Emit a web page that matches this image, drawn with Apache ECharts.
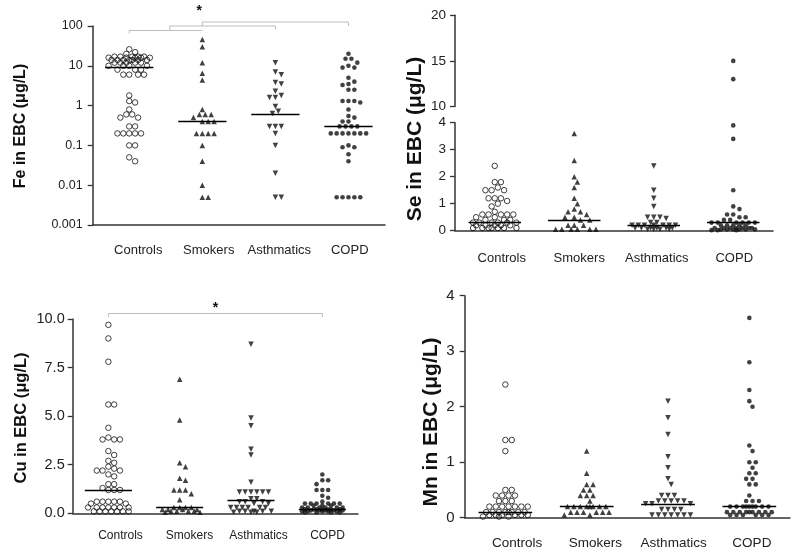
<!DOCTYPE html>
<html><head><meta charset="utf-8">
<script src="https://cdn.jsdelivr.net/npm/echarts@6/dist/echarts.min.js"></script>
<style>html,body{margin:0;padding:0;background:#fff}#c{width:800px;height:560px}</style>
</head><body><div id="c"></div>
<script>
const categories = ['Controls', 'Smokers', 'Asthmatics', 'COPD'];

// Fe (µg/L), log scale
const feControls = [26, 22, 20, 17, 17, 17, 17, 17, 16, 16, 16, 16, 16, 14, 14, 14, 14, 14, 14, 14, 12, 12, 12, 12, 12, 10, 10, 10, 10, 8, 8, 8, 6, 6, 6, 6, 1.8, 1.3, 1.2, 0.8, 0.6, 0.6, 0.5, 0.5, 0.3, 0.3, 0.2, 0.2, 0.2, 0.2, 0.2, 0.1, 0.1, 0.05, 0.04];
const feSmokers = [46, 30, 12, 6.5, 4.4, 0.8, 0.6, 0.6, 0.6, 0.5, 0.4, 0.4, 0.4, 0.2, 0.2, 0.2, 0.2, 0.1, 0.04, 0.01, 0.005, 0.005];
const feAsthmatics = [12, 7, 6, 3.8, 3.5, 2.3, 1.8, 1.6, 1.6, 0.95, 0.72, 0.63, 0.3, 0.3, 0.3, 0.2, 0.1, 0.02, 0.005, 0.005];
const feCOPD = [20, 15, 15, 12, 10, 9, 9, 5, 4, 3.5, 3.3, 2.5, 2.5, 1.3, 1.3, 1.3, 1.2, 0.8, 0.55, 0.5, 0.4, 0.4, 0.3, 0.3, 0.3, 0.3, 0.2, 0.2, 0.2, 0.2, 0.2, 0.2, 0.2, 0.1, 0.09, 0.09, 0.06, 0.04, 0.005, 0.005, 0.005, 0.005, 0.005];
const feMedians = [9, 0.4, 0.6, 0.3];
const feTicks = ['0.001', '0.01', '0.1', '1', '10', '100'];

// Se (µg/L), broken axis
const seControls = [2.4, 1.8, 1.8, 1.6, 1.5, 1.5, 1.5, 1.2, 1.2, 1.2, 1.1, 1.0, 0.9, 0.7, 0.6, 0.6, 0.6, 0.6, 0.6, 0.5, 0.5, 0.4, 0.4, 0.4, 0.3, 0.3, 0.3, 0.3, 0.3, 0.3, 0.2, 0.2, 0.2, 0.2, 0.2, 0.1, 0.1, 0.1, 0.1, 0.1, 0.1, 0.1];
const seSmokers = [3.6, 2.6, 2.0, 1.8, 1.6, 1.2, 1.0, 0.8, 0.7, 0.7, 0.6, 0.5, 0.5, 0.4, 0.4, 0.2, 0.2, 0.2, 0.05, 0.05, 0.05, 0.05, 0.05, 0.05];
const seAsthmatics = [2.4, 1.5, 1.2, 0.9, 0.5, 0.5, 0.5, 0.45, 0.3, 0.3, 0.2, 0.2, 0.2, 0.2, 0.2, 0.2, 0.2, 0.1, 0.1, 0.1, 0.1, 0.1, 0.1, 0.05, 0.05, 0.05, 0.05];
const seCOPD = [15, 13, 3.9, 3.4, 1.5, 0.9, 0.8, 0.6, 0.6, 0.5, 0.5, 0.4, 0.4, 0.3, 0.3, 0.3, 0.3, 0.3, 0.3, 0.2, 0.2, 0.2, 0.2, 0.2, 0.1, 0.1, 0.1, 0.1, 0.1, 0.1, 0.1, 0.05, 0.05, 0.05, 0.05, 0.05, 0.05, 0.02, 0.02, 0.02];
const seMedians = [0.3, 0.4, 0.2, 0.3];

// Cu (µg/L)
const cuControls = [9.7, 9.0, 7.8, 5.6, 5.6, 4.4, 3.9, 3.8, 3.8, 3.8, 3.2, 3.0, 2.7, 2.6, 2.4, 2.3, 2.2, 2.2, 2.2, 2.0, 1.9, 1.5, 1.5, 1.3, 1.2, 1.2, 1.2, 0.6, 0.6, 0.6, 0.6, 0.6, 0.5, 0.5, 0.3, 0.3, 0.3, 0.3, 0.3, 0.3, 0.3, 0.1, 0.1, 0.1, 0.1, 0.1, 0.1, 0.1];
const cuSmokers = [6.9, 4.8, 2.6, 2.4, 1.8, 1.7, 1.2, 1.2, 1.2, 1.0, 0.7, 0.3, 0.3, 0.3, 0.3, 0.2, 0.2, 0.2, 0.2, 0.1, 0.1, 0.1, 0.1, 0.05, 0.05];
const cuAsthmatics = [8.7, 4.9, 4.5, 3.3, 3.0, 1.6, 1.1, 1.1, 1.1, 1.1, 1.1, 1.1, 0.75, 0.75, 0.6, 0.6, 0.6, 0.5, 0.5, 0.3, 0.3, 0.3, 0.3, 0.3, 0.3, 0.1, 0.1, 0.1, 0.1, 0.1, 0.05, 0.05, 0.05];
const cuCOPD = [2.0, 1.7, 1.7, 1.5, 1.2, 1.2, 1.2, 0.9, 0.8, 0.6, 0.5, 0.5, 0.5, 0.5, 0.5, 0.5, 0.4, 0.4, 0.4, 0.3, 0.3, 0.3, 0.3, 0.3, 0.3, 0.2, 0.2, 0.2, 0.2, 0.2, 0.2, 0.2, 0.15, 0.15, 0.15, 0.15, 0.15, 0.1, 0.1, 0.1, 0.1, 0.1, 0.05, 0.05, 0.05, 0.05];
const cuMedians = [1.2, 0.3, 0.65, 0.2];
const cuTicks = ['0.0', '2.5', '5.0', '7.5', '10.0'];

// Mn (µg/L)
const mnControls = [2.4, 1.4, 1.4, 1.2, 0.5, 0.5, 0.4, 0.4, 0.4, 0.4, 0.3, 0.3, 0.3, 0.2, 0.2, 0.2, 0.2, 0.2, 0.2, 0.2, 0.1, 0.1, 0.1, 0.1, 0.1, 0.1, 0.1, 0.1, 0.05, 0.05, 0.05, 0.05, 0.05, 0.05, 0.02, 0.02, 0.02];
const mnSmokers = [1.2, 0.8, 0.6, 0.6, 0.5, 0.5, 0.4, 0.4, 0.4, 0.3, 0.2, 0.2, 0.2, 0.2, 0.2, 0.2, 0.2, 0.2, 0.1, 0.1, 0.1, 0.1, 0.1, 0.1, 0.05, 0.05];
const mnAsthmatics = [2.1, 1.8, 1.5, 1.1, 0.9, 0.7, 0.6, 0.4, 0.4, 0.4, 0.3, 0.3, 0.3, 0.3, 0.3, 0.25, 0.25, 0.25, 0.15, 0.15, 0.15, 0.15, 0.05, 0.05, 0.05, 0.05, 0.05, 0.05, 0.05];
const mnCOPD = [3.6, 2.8, 2.3, 2.1, 2.0, 1.3, 1.2, 1.0, 1.0, 0.9, 0.8, 0.8, 0.7, 0.7, 0.6, 0.6, 0.4, 0.3, 0.3, 0.3, 0.2, 0.2, 0.2, 0.2, 0.2, 0.2, 0.2, 0.2, 0.2, 0.1, 0.1, 0.1, 0.1, 0.1, 0.1, 0.1, 0.1, 0.1, 0.05, 0.05, 0.05, 0.05, 0.05, 0.05];
const mnMedians = [0.1, 0.2, 0.25, 0.2];

const FONT = '"Liberation Sans", Arial, Helvetica, sans-serif';
const INK = '#222';
const AX = '#333';

const chart = echarts.init(document.getElementById('c'), null, { renderer: 'canvas' });

const grids = [
  { left: 92.7, top: 26, width: 292.3, height: 199 },     // 0 Fe data
  { left: 103, top: 26, width: 282, height: 199 },        // 1 Fe labels
  { left: 455, top: 15.3, width: 318, height: 91.2 },     // 2 Se upper
  { left: 455, top: 122.7, width: 318, height: 108 },     // 3 Se lower
  { left: 463, top: 122.7, width: 310, height: 108 },     // 4 Se labels
  { left: 72.7, top: 319, width: 285.3, height: 194.3 },  // 5 Cu data
  { left: 86, top: 319, width: 276, height: 194.3 },      // 6 Cu labels
  { left: 464.7, top: 295.7, width: 325.3, height: 222 }, // 7 Mn data
  { left: 478, top: 295.7, width: 313, height: 222 }      // 8 Mn labels
];

function dataX(g, showLine) {
  return {
    gridIndex: g, type: 'value', min: -0.5, max: 3.5, show: true,
    axisLine: { show: showLine, onZero: false, lineStyle: { color: AX, width: 1.5 } },
    axisTick: { show: false }, axisLabel: { show: false }, splitLine: { show: false }
  };
}
function labelX(g, fs, margin) {
  return {
    gridIndex: g, type: 'category', data: categories, boundaryGap: true,
    axisLine: { show: false }, axisTick: { show: false }, splitLine: { show: false },
    axisLabel: { show: true, fontSize: fs, fontFamily: FONT, color: INK, margin: margin, interval: 0 }
  };
}
function valY(g, min, max, interval, fs, margin, fmt) {
  return {
    gridIndex: g, type: 'value', min, max, interval,
    axisLine: { show: true, onZero: false, lineStyle: { color: AX, width: 1.5 } },
    axisTick: { show: true, inside: false, length: 5, lineStyle: { color: AX, width: 1.3 } },
    axisLabel: { fontSize: fs, fontFamily: FONT, color: INK, margin, formatter: fmt },
    splitLine: { show: false }
  };
}
function hiddenY(g) { return { gridIndex: g, type: 'value', show: false }; }

const xAxes = [
  dataX(0, true), labelX(1, 13, 19),
  dataX(2, false), dataX(3, true), labelX(4, 13, 21),
  dataX(5, true), labelX(6, 12, 16),
  dataX(7, true), labelX(8, 13.5, 19)
];
const yAxes = [
  {
    gridIndex: 0, type: 'log', logBase: 10, min: 0.001, max: 100,
    axisLine: { show: true, onZero: false, lineStyle: { color: AX, width: 1.5 } },
    axisTick: { show: true, inside: false, length: 5, lineStyle: { color: AX, width: 1.3 } },
    axisLabel: { fontSize: 12.5, fontFamily: FONT, color: INK, margin: 10,
      formatter: v => feTicks[Math.round(Math.log10(v)) + 3] },
    minorTick: { show: false }, splitLine: { show: false }
  },
  hiddenY(1),
  valY(2, 10, 20, 5, 13.5, 9, v => String(v)),
  valY(3, 0, 4, 1, 13.5, 9, v => String(v)),
  hiddenY(4),
  valY(5, 0, 10, 2.5, 14.5, 8, v => cuTicks[Math.round(v / 2.5)]),
  hiddenY(6),
  valY(7, 0, 4, 1, 15, 10, v => String(v)),
  hiddenY(8)
];

chart.setOption({
  animation: false,
  backgroundColor: '#fff',
  grid: grids,
  xAxis: xAxes,
  yAxis: yAxes,
  series: []
});

const symbols = [
  { symbol: 'circle', symbolSize: 5.5, symbolRotate: 0, itemStyle: { color: 'rgba(0,0,0,0)', borderColor: '#111', borderWidth: 1 } },
  { symbol: 'triangle', symbolSize: 5.5, symbolRotate: 0, itemStyle: { color: '#111' } },
  { symbol: 'triangle', symbolSize: 5.5, symbolRotate: 180, itemStyle: { color: '#111' } },
  { symbol: 'circle', symbolSize: 4.6, symbolRotate: 0, itemStyle: { color: '#111' } }
];

// bounded beeswarm layout (pixel space), returns offsets in axis units
function swarm(vals, yp, d, unit, halfW) {
  const order = vals.map((v, i) => i).sort((a, b) => vals[b] - vals[a]);
  const placed = [];
  const off = new Array(vals.length);
  const s = d / 2;
  const r2 = (d * 0.88) * (d * 0.88);
  const kmax = Math.floor(halfW / s);
  const cands = [0];
  for (let k = 1; k <= kmax; k++) { cands.push(k * s, -k * s); }
  for (const i of order) {
    const y = yp(vals[i]);
    let chosen = null, best = -1, bestX = 0;
    for (const x of cands) {
      let mind = Infinity;
      for (const q of placed) {
        const dd = (x - q.x) * (x - q.x) + (y - q.y) * (y - q.y);
        if (dd < mind) mind = dd;
      }
      if (mind >= r2) { chosen = x; break; }
      if (mind > best + 1e-6) { best = mind; bestX = x; }
    }
    if (chosen === null) chosen = bestX;
    placed.push({ x: chosen, y });
    off[i] = chosen / unit;
  }
  return off;
}

function px(g, x, y) { return chart.convertToPixel({ gridIndex: g }, [x, y]); }

const panels = [
  { groups: [feControls, feSmokers, feAsthmatics, feCOPD], medians: feMedians, grid: 0, d: 5.9 },
  { groups: [seControls, seSmokers, seAsthmatics, seCOPD], medians: seMedians, grid: 3, upper: 2, d: 6.2 },
  { groups: [cuControls, cuSmokers, cuAsthmatics, cuCOPD], medians: cuMedians, grid: 5, d: 5.8 },
  { groups: [mnControls, mnSmokers, mnAsthmatics, mnCOPD], medians: mnMedians, grid: 7, d: 6.4 }
];

const series = [];
panels.forEach(p => {
  const unit = px(p.grid, 1, 1)[0] - px(p.grid, 0, 1)[0];
  const halfW = 0.33 * unit - 3;
  const yp = v => (p.upper !== undefined && v >= 10) ? px(p.upper, 0, v)[1] : px(p.grid, 0, v)[1];
  p.groups.forEach((vals, g) => {
    const offs = swarm(vals, yp, p.d, unit, halfW);
    const pts = vals.map((v, i) => [g + offs[i], v]);
    const lower = p.upper !== undefined ? pts.filter(q => q[1] < 10) : pts;
    const base = Object.assign({ type: 'scatter', silent: true, z: 3 }, symbols[g]);
    series.push(Object.assign({}, base, {
      xAxisIndex: p.grid, yAxisIndex: p.grid, data: lower,
      markLine: {
        silent: true, symbol: ['none', 'none'], label: { show: false }, animation: false,
        lineStyle: { color: '#000', width: 1.3, type: 'solid' },
        data: [[{ coord: [g - 0.33, p.medians[g]] }, { coord: [g + 0.33, p.medians[g]] }]]
      }
    }));
    if (p.upper !== undefined) {
      const up = pts.filter(q => q[1] >= 10);
      if (up.length) series.push(Object.assign({}, base, { xAxisIndex: p.upper, yAxisIndex: p.upper, data: up }));
    }
  });
});

// annotations
const c0 = [0, 1, 2, 3].map(i => px(0, i, 1)[0]);
const c5 = [0, 1, 2, 3].map(i => px(5, i, 1)[0]);
const BR = '#bdbdbd';
function bracket(pts) { return { type: 'polyline', z: 10, shape: { points: pts }, style: { stroke: BR, lineWidth: 1, fill: null } }; }
function title(text, x, y, fs) {
  return { type: 'text', x, y, rotation: Math.PI / 2, z: 10,
    style: { text, fontSize: fs, fontWeight: 'bold', fontFamily: FONT, fill: '#111', align: 'center', verticalAlign: 'middle' } };
}
const mid01 = (c0[0] + c0[1]) / 2 + 4;
const graphic = [
  title('Fe in EBC (\u03bcg/L)', 21, 126, 16),
  title('Se in EBC (\u03bcg/L)', 415, 139, 21),
  title('Cu in EBC (\u03bcg/L)', 21, 418, 16.5),
  title('Mn in EBC (\u03bcg/L)', 431, 422, 21),
  bracket([[c0[0], 33.5], [c0[0], 30.5], [c0[1], 30.5]]),
  bracket([[mid01, 30.5], [mid01, 26], [c0[2], 26], [c0[2], 29.5]]),
  bracket([[c0[1], 26], [c0[1], 22], [c0[3], 22], [c0[3], 26]]),
  { type: 'text', x: c0[1] - 3, y: 11, z: 10, style: { text: '*', fontSize: 14, fontWeight: 'bold', fontFamily: FONT, fill: '#111', align: 'center', verticalAlign: 'middle' } },
  bracket([[c5[0], 317], [c5[0], 313.5], [c5[3], 313.5], [c5[3], 317]]),
  { type: 'text', x: (c5[0] + c5[3]) / 2, y: 308, z: 10, style: { text: '*', fontSize: 14, fontWeight: 'bold', fontFamily: FONT, fill: '#111', align: 'center', verticalAlign: 'middle' } }
];

chart.setOption({ series, graphic });
</script></body></html>
